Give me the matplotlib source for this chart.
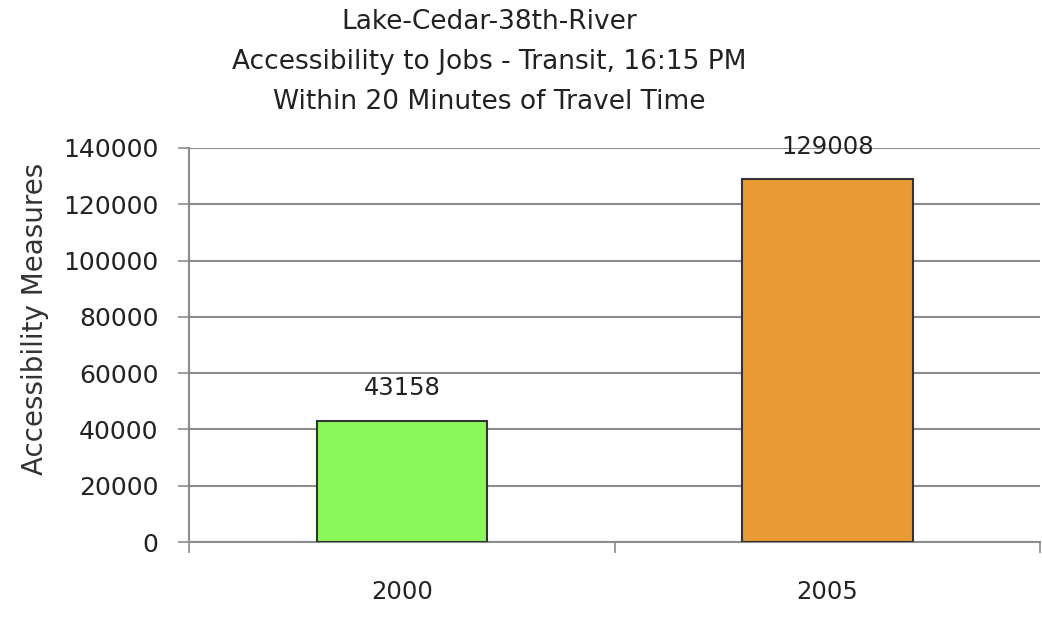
import matplotlib
matplotlib.use("Agg")
import matplotlib.pyplot as plt

# data
years = ["2000", "2005"]
values = [43158, 129008]
colors = ["#8cf75a", "#e89b34"]
yticks = [0, 20000, 40000, 60000, 80000, 100000, 120000, 140000]

fig = plt.figure(figsize=(10.42, 6.2), dpi=100)
ax = fig.add_axes([0.1814, 0.1258, 0.817, 0.6355])

x = list(range(len(years)))
bars = ax.bar(x, values, width=0.4, color=colors, edgecolor="#333333", linewidth=1.5, zorder=3)

# value labels above bars
for xi, v in zip(x, values):
    ax.text(xi, v + 11500, str(v), ha="center", va="center", fontsize=17.5,
            color="#222222", zorder=4)

ax.set_xlim(-0.5, 1.5)
ax.set_ylim(0, 140000)
ax.set_yticks(yticks)
ax.set_yticklabels([str(t) for t in yticks], fontsize=18, color="#222222")
ax.yaxis.grid(True, color="#8c8c8c", linewidth=1.5, zorder=0)

# category boundaries as ticks, labels in the middle
ax.set_xticks([-0.5, 0.5, 1.5])
ax.set_xticklabels([])
ax.set_xticks(x, minor=True)
ax.set_xticklabels(years, minor=True, fontsize=17.5, color="#222222")
ax.tick_params(axis="x", which="major", length=8, color="#8c8c8c", width=1.2)
ax.tick_params(axis="x", which="minor", length=0, pad=27)
ax.tick_params(axis="y", length=8, color="#8c8c8c", width=1.2, pad=14)

for s in ["top", "right"]:
    ax.spines[s].set_visible(False)
ax.spines["left"].set_color("#8c8c8c")
ax.spines["left"].set_linewidth(1.5)
ax.spines["bottom"].set_color("#8c8c8c")
ax.spines["bottom"].set_linewidth(1.5)

fig.text(0.034, 0.485, "Accessibility Measures", rotation=90, ha="center", va="center",
         fontsize=20, color="#333333")

fig.text(0.47, 0.985, "Lake-Cedar-38th-River\nAccessibility to Jobs - Transit, 16:15 PM\nWithin 20 Minutes of Travel Time",
         ha="center", va="top", fontsize=19, color="#222222", linespacing=1.7)

fig.savefig("out.png", dpi=100)
